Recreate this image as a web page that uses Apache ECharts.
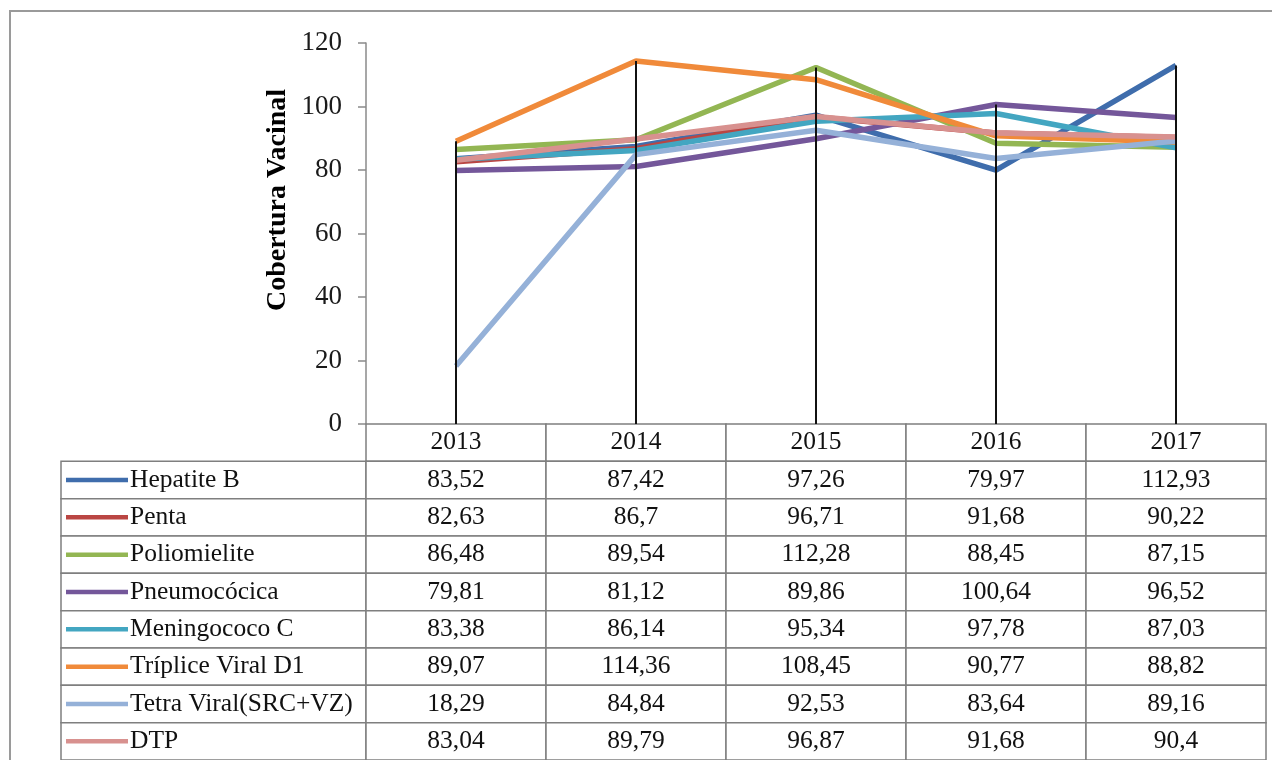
<!DOCTYPE html>
<html>
<head>
<meta charset="utf-8">
<script src="https://cdn.jsdelivr.net/npm/echarts@6/dist/echarts.min.js"></script>
<style>
html,body{margin:0;padding:0;background:#fff;}
#chart{width:1272px;height:760px;}
</style>
</head>
<body>
<div id="chart"></div>
<script>
// ---- data ----
const years = ['2013', '2014', '2015', '2016', '2017'];
const seriesNames = ['Hepatite B', 'Penta', 'Poliomielite', 'Pneumocócica', 'Meningococo C', 'Tríplice Viral D1', 'Tetra Viral(SRC+VZ)', 'DTP'];
const hepatiteB = [83.52, 87.42, 97.26, 79.97, 112.93];
const penta = [82.63, 86.7, 96.71, 91.68, 90.22];
const poliomielite = [86.48, 89.54, 112.28, 88.45, 87.15];
const pneumococica = [79.81, 81.12, 89.86, 100.64, 96.52];
const meningococoC = [83.38, 86.14, 95.34, 97.78, 87.03];
const tripliceViral = [89.07, 114.36, 108.45, 90.77, 88.82];
const tetraViral = [18.29, 84.84, 92.53, 83.64, 89.16];
const dtp = [83.04, 89.79, 96.87, 91.68, 90.4];
const yMin = 0, yMax = 120, yInterval = 20;

const seriesValues = [hepatiteB, penta, poliomielite, pneumococica, meningococoC, tripliceViral, tetraViral, dtp];
const colors = ['#3F6DAC', '#BA4643', '#93B653', '#74579A', '#43A6C1', '#F08A3A', '#95B1D8', '#D8918F'];

const FONT = '"Liberation Serif", "Times New Roman", serif';
const BORDER = '#7f7f7f';
const LEGEND_W = 305;

// drop lines from the highest point of each category to the axis
const dropMax = years.map((_, i) => Math.max.apply(null, seriesValues.map(s => s[i])));

// table cells
const rowKeys = ['header'].concat(seriesNames);
const cells = [];
const cellData = [];
for (let r = 0; r < rowKeys.length; r++) {
  if (r > 0) {
    cells.push({ legend: true, r: r, name: seriesNames[r - 1], color: colors[r - 1] });
    cellData.push([0, r]);
  }
  for (let c = 0; c < years.length; c++) {
    const txt = r === 0 ? years[c] : String(seriesValues[r - 1][c]).replace('.', ',');
    cells.push({ legend: false, r: r, c: c, text: txt });
    cellData.push([c, r]);
  }
}

const chart = echarts.init(document.getElementById('chart'));

const lineSeries = seriesNames.map((n, i) => ({
  name: n,
  type: 'line',
  xAxisIndex: 0,
  yAxisIndex: 0,
  data: seriesValues[i],
  symbol: 'none',
  lineStyle: { width: 5.5, color: colors[i] },
  itemStyle: { color: colors[i] },
  z: 2,
  animation: false
}));

const option = {
  animation: false,
  backgroundColor: '#fff',
  grid: [
    { left: 366, right: 6, top: 43, bottom: 336 },
    { left: 366, right: 6, top: 424, bottom: 0 }
  ],
  xAxis: [
    {
      gridIndex: 0, type: 'category', data: years, boundaryGap: true,
      axisLine: { show: false }, axisTick: { show: false }, axisLabel: { show: false }
    },
    {
      gridIndex: 1, type: 'category', data: years, boundaryGap: true, show: false
    }
  ],
  yAxis: [
    {
      gridIndex: 0, type: 'value', min: yMin, max: yMax, interval: yInterval,
      axisLine: { show: true, lineStyle: { color: '#8a8a8a', width: 1.5 } },
      axisTick: { show: true, length: 8, lineStyle: { color: '#8a8a8a', width: 1.5 } },
      axisLabel: { margin: 24, fontFamily: FONT, fontSize: 27, color: '#1a1a1a' },
      splitLine: { show: false }
    },
    {
      gridIndex: 1, type: 'category', data: rowKeys, inverse: true, show: false
    }
  ],
  graphic: [
    {
      type: 'rect', shape: { x: 10, y: 11, width: 1400, height: 900 },
      style: { fill: 'none', stroke: '#9a9a9a', lineWidth: 2 }, silent: true, z: -10
    },
    {
      type: 'text', x: 278, y: 200, rotation: Math.PI / 2,
      style: {
        text: 'Cobertura Vacinal', align: 'center', verticalAlign: 'middle',
        font: 'bold 28px ' + FONT, fill: '#000'
      }
    }
  ],
  series: lineSeries.concat([
    {
      name: 'drop', type: 'bar', xAxisIndex: 0, yAxisIndex: 0,
      data: dropMax, barWidth: 2, itemStyle: { color: '#111' }, z: 3,
      silent: true
    },
    {
      name: 'table', type: 'custom', xAxisIndex: 1, yAxisIndex: 1,
      data: cellData, clip: false, silent: true,
      renderItem: function (params, api) {
        const cell = cells[params.dataIndex];
        const p = api.coord([api.value(0), api.value(1)]);
        const s = api.size([1, 1]);
        let x0 = p[0] - s[0] / 2, y0 = p[1] - s[1] / 2, w = s[0], h = s[1];
        const children = [];
        if (cell.legend) {
          x0 = x0 - LEGEND_W; w = LEGEND_W;
          children.push({ type: 'rect', shape: { x: x0, y: y0, width: w, height: h }, style: { fill: '#fff', stroke: BORDER, lineWidth: 1.5 } });
          children.push({ type: 'line', shape: { x1: x0 + 5, y1: p[1], x2: x0 + 67, y2: p[1] }, style: { stroke: cell.color, lineWidth: 4.5 } });
          children.push({ type: 'text', x: x0 + 69, y: p[1], style: { text: cell.name, align: 'left', verticalAlign: 'middle', font: '25.5px ' + FONT, fill: '#111' } });
        } else {
          children.push({ type: 'rect', shape: { x: x0, y: y0, width: w, height: h }, style: { fill: '#fff', stroke: BORDER, lineWidth: 1.5 } });
          children.push({ type: 'text', x: p[0], y: p[1], style: { text: cell.text, align: 'center', verticalAlign: 'middle', font: '25.5px ' + FONT, fill: '#111' } });
        }
        return { type: 'group', children: children };
      }
    }
  ])
};
chart.setOption(option);
</script>
</body>
</html>
